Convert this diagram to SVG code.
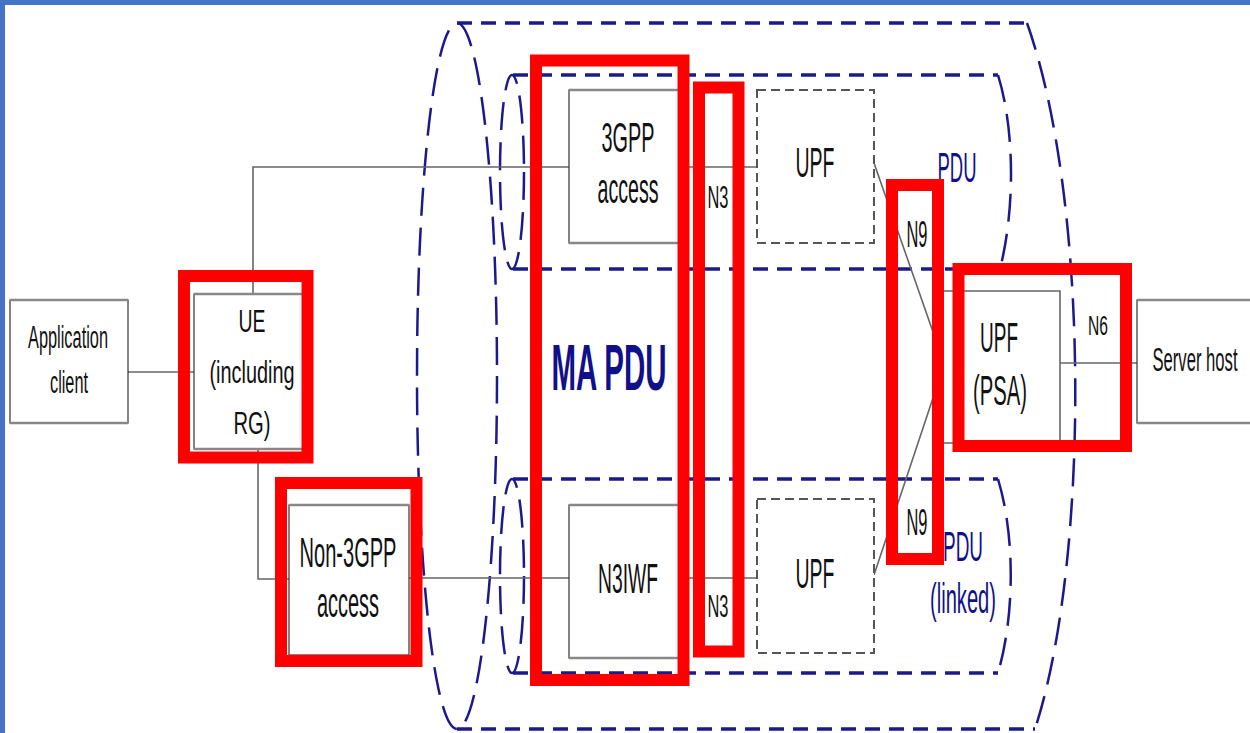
<svg xmlns="http://www.w3.org/2000/svg" width="1250" height="733" viewBox="0 0 1250 733">
<style>
.bx{fill:#fff;stroke:#333;stroke-width:1.2}
.edge{stroke:#888;stroke-width:2.5;fill:none}
.ln{stroke:#666;stroke-width:1.6;fill:none}
.dg{fill:#fff;stroke:#555;stroke-width:2;stroke-dasharray:9 5}
.bh{fill:none;stroke:#1a1a8c;stroke-width:3.5;stroke-dasharray:15 9}
.bc{fill:none;stroke:#1a1a8c;stroke-width:2.5;stroke-dasharray:28 12}
.red{fill:none;stroke:#ff0000;stroke-width:12}
.t{font-family:"Liberation Sans",Arial,sans-serif;fill:#111;text-anchor:middle}
.nv{font-family:"Liberation Sans",Arial,sans-serif;fill:#10108a;text-anchor:middle}
</style>
<rect x="0" y="0" width="1250" height="733" fill="#fff"/>
<rect x="0" y="0" width="1250" height="5" fill="#4472c4"/>
<rect x="0" y="0" width="5" height="733" fill="#4472c4"/>

<g id="ma-pdu-outer">
<ellipse class="bc" cx="457" cy="376" rx="40" ry="353"/>
<path class="bh" d="M457,23 H1027"/>
<path class="bh" d="M457,729 H1035"/>
<path class="bc" d="M1027,23 C1090,200 1090,560 1035,729"/>
<text class="nv" x="609" y="390" font-size="65" font-weight="bold" textLength="115" lengthAdjust="spacingAndGlyphs">MA PDU</text>
</g>
<g id="pdu-top">
<ellipse class="bc" cx="512" cy="172" rx="12" ry="97"/>
<path class="bh" d="M513,75 H998"/>
<path class="bh" d="M513,269 H1000"/>
<path class="bc" d="M998,75 C1015,130 1015,210 1000,269"/>
<text class="nv" x="957" y="182" font-size="42" textLength="39" lengthAdjust="spacingAndGlyphs">PDU</text>
</g>
<g id="pdu-linked">
<ellipse class="bc" cx="512" cy="576" rx="12" ry="97"/>
<path class="bh" d="M513,479 H998"/>
<path class="bh" d="M513,673 H998"/>
<path class="bc" d="M998,479 C1015,535 1015,615 998,673"/>
<text class="nv" x="963" y="561" font-size="42" textLength="40" lengthAdjust="spacingAndGlyphs">PDU</text>
<text class="nv" x="963" y="613" font-size="42" textLength="66" lengthAdjust="spacingAndGlyphs">(linked)</text>
</g>

<g id="connectors">
<path class="ln" d="M128,372 H194"/>
<path class="ln" d="M253,294 V167 H569"/>
<path class="ln" d="M258,449 V579 H289"/>
<path class="ln" d="M409,578 H569"/>
<path class="ln" d="M681,167 H757"/>
<path class="ln" d="M681,578 H757"/>
<path class="ln" d="M874,163 L940,352"/>
<path class="ln" d="M874,575 L940,377"/>
<path class="ln" d="M1060,363 H1137"/>
<text class="t" x="718" y="208" font-size="31" textLength="21" lengthAdjust="spacingAndGlyphs">N3</text>
<text class="t" x="718" y="617" font-size="31" textLength="21" lengthAdjust="spacingAndGlyphs">N3</text>
<text class="t" x="917" y="247" font-size="37" textLength="21" lengthAdjust="spacingAndGlyphs">N9</text>
<text class="t" x="917" y="535" font-size="37" textLength="21" lengthAdjust="spacingAndGlyphs">N9</text>
<text class="t" x="1098" y="335" font-size="28" textLength="20" lengthAdjust="spacingAndGlyphs">N6</text>
</g>

<g id="app-client">
<rect class="bx" x="10" y="300" width="118" height="123"/>
<path class="edge" d="M10,300 H128 M10,423 H128"/>
<text class="t" x="68" y="348" font-size="31" textLength="80" lengthAdjust="spacingAndGlyphs">Application</text>
<text class="t" x="69" y="393" font-size="31" textLength="38" lengthAdjust="spacingAndGlyphs">client</text>
</g>
<g id="ue">
<rect class="bx" x="194" y="294" width="109" height="155"/>
<path class="edge" d="M194,294 H303 M194,449 H303"/>
<text class="t" x="252" y="332" font-size="31" textLength="27" lengthAdjust="spacingAndGlyphs">UE</text>
<text class="t" x="252" y="383" font-size="31" textLength="85" lengthAdjust="spacingAndGlyphs">(including</text>
<text class="t" x="252" y="434" font-size="31" textLength="37" lengthAdjust="spacingAndGlyphs">RG)</text>
</g>
<g id="non3gpp-access">
<rect class="bx" x="289" y="505" width="120" height="150"/>
<path class="edge" d="M289,505 H409"/>
<text class="t" x="348" y="567" font-size="42" textLength="97" lengthAdjust="spacingAndGlyphs">Non-3GPP</text>
<text class="t" x="348" y="617" font-size="42" textLength="62" lengthAdjust="spacingAndGlyphs">access</text>
</g>
<g id="3gpp-access">
<rect class="bx" x="569" y="90" width="112" height="153"/>
<path class="edge" d="M569,90 H681 M569,243 H681"/>
<text class="t" x="628" y="152" font-size="42" textLength="53" lengthAdjust="spacingAndGlyphs">3GPP</text>
<text class="t" x="628" y="203" font-size="42" textLength="61" lengthAdjust="spacingAndGlyphs">access</text>
</g>
<g id="n3iwf">
<rect class="bx" x="569" y="505" width="112" height="153"/>
<path class="edge" d="M569,505 H681 M569,658 H681"/>
<text class="t" x="628" y="593" font-size="43" textLength="60" lengthAdjust="spacingAndGlyphs">N3IWF</text>
</g>
<g id="upf-top">
<rect class="dg" x="757" y="90" width="117" height="153"/>
<text class="t" x="815" y="177" font-size="42" textLength="39" lengthAdjust="spacingAndGlyphs">UPF</text>
</g>
<g id="upf-bottom">
<rect class="dg" x="757" y="499" width="117" height="154"/>
<text class="t" x="815" y="588" font-size="42" textLength="39" lengthAdjust="spacingAndGlyphs">UPF</text>
</g>
<g id="upf-psa">
<path class="ln" d="M940,291 H1060 V443 H940"/>
<text class="t" x="999" y="352" font-size="42" textLength="38" lengthAdjust="spacingAndGlyphs">UPF</text>
<text class="t" x="1000" y="405" font-size="42" textLength="54" lengthAdjust="spacingAndGlyphs">(PSA)</text>
</g>
<g id="server-host">
<rect class="bx" x="1137" y="300" width="120" height="123"/>
<path class="edge" d="M1137,300 H1250 M1137,423 H1250"/>
<text class="t" x="1195" y="371" font-size="33" textLength="85" lengthAdjust="spacingAndGlyphs">Server host</text>
</g>

<g id="highlights">
<rect class="red" x="184" y="276" width="123.5" height="181.5"/>
<rect class="red" x="281" y="483" width="135.5" height="178"/>
<rect class="red" x="536" y="60.5" width="147.5" height="619.5"/>
<rect class="red" x="699" y="87.5" width="39.5" height="564"/>
<rect class="red" x="892" y="185" width="46" height="374"/>
<rect class="red" x="958.5" y="269" width="167.5" height="177"/>
</g>
</svg>
